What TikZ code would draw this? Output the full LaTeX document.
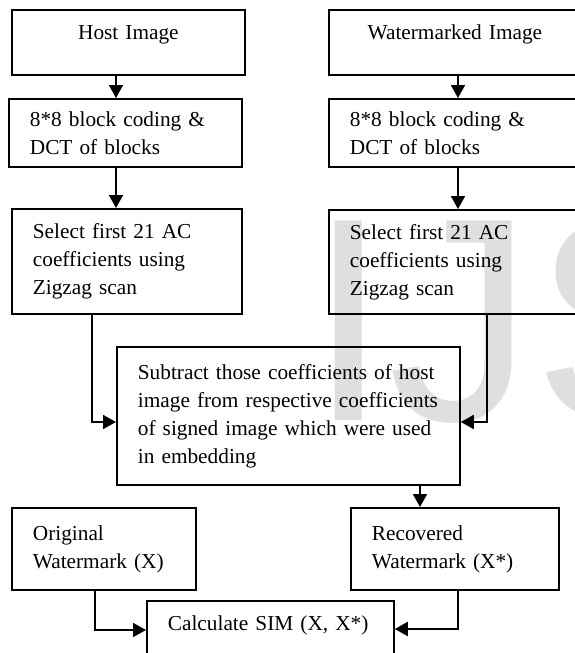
\documentclass[tikz,border=0pt]{standalone}
\usepackage{fontspec}
\setmainfont{Liberation Serif}[WordSpace=0.8]
\newfontfamily\markfont{Liberation Sans}
\usetikzlibrary{arrows.meta}

\tikzset{
  blk/.style={draw=black, line width=1.8pt, anchor=north west, inner xsep=21pt,
    align=left, font=\fontsize{21.3}{28}\selectfont},
  ttl/.style={blk, text height=14pt, text depth=19pt},
  flow/.style={line width=1.8pt, -{Triangle[width=14pt,length=13pt]}},
  wmark/.style={inner sep=0pt, anchor=base west, text=gray!25,
    font=\markfont\fontsize{290}{290}\selectfont}
}

\begin{document}
\begin{tikzpicture}[x=1pt,y=-1pt]
\useasboundingbox (0,0) rectangle (575,653);
\clip (0,0) rectangle (575,653);
\node[wmark] (mark) at (308,420) {IJSER};

\node[ttl, align=center, text width=191pt, minimum height=65pt] (host) at (11,9) {Host Image};
\node[ttl, align=center, text width=210pt, minimum height=65pt] (wimg) at (328,9) {Watermarked Image};
\node[blk, text width=191pt, minimum height=68pt] (dct1) at (8,98) {8*8 block coding \&\\DCT of blocks};
\node[blk, text width=210pt, minimum height=68pt] (dct2) at (328,98) {8*8 block coding \&\\DCT of blocks};
\node[blk, text width=188pt, minimum height=105pt] (sel1) at (11,208) {Select first 21 AC\\coefficients using\\Zigzag scan};
\node[blk, text width=210pt, minimum height=104pt] (sel2) at (328,209) {Select first 21 AC\\coefficients using\\Zigzag scan};
\node[blk, text width=301pt, minimum height=138pt] (sub) at (116,346) {Subtract those coefficients of host\\image from respective coefficients\\of signed image which were used\\in embedding};
\node[blk, text width=142pt, minimum height=82pt] (orig) at (11,507) {Original\\Watermark (X)};
\node[blk, text width=166pt, minimum height=82pt] (rec) at (350,507) {Recovered\\Watermark (X*)};
\node[ttl, text width=205pt, minimum height=65pt] (calc) at (146,600) {Calculate SIM (X, X*)};

\coordinate (lx) at (116,0);
\coordinate (rx) at (458,0);
\coordinate (mx) at (420,0);
\coordinate (lj) at (92,422);
\coordinate (rj) at (487,422);
\coordinate (lk) at (95,630);
\coordinate (rk) at (458,629);

\draw[flow] (host.south -| lx) -- (dct1.north -| lx);
\draw[flow] (dct1.south -| lx) -- (sel1.north -| lx);
\draw[flow] (wimg.south -| rx) -- (dct2.north -| rx);
\draw[flow] (dct2.south -| rx) -- (sel2.north -| rx);
\draw[flow] (sel1.south -| lj) |- (sub.west |- lj);
\draw[flow] (sel2.south -| rj) |- (sub.east |- rj);
\draw[flow] (sub.south -| mx) -- (rec.north -| mx);
\draw[flow] (orig.south -| lk) |- (calc.west |- lk);
\draw[flow] (rec.south -| rk) |- (calc.east |- rk);
\end{tikzpicture}
\end{document}
